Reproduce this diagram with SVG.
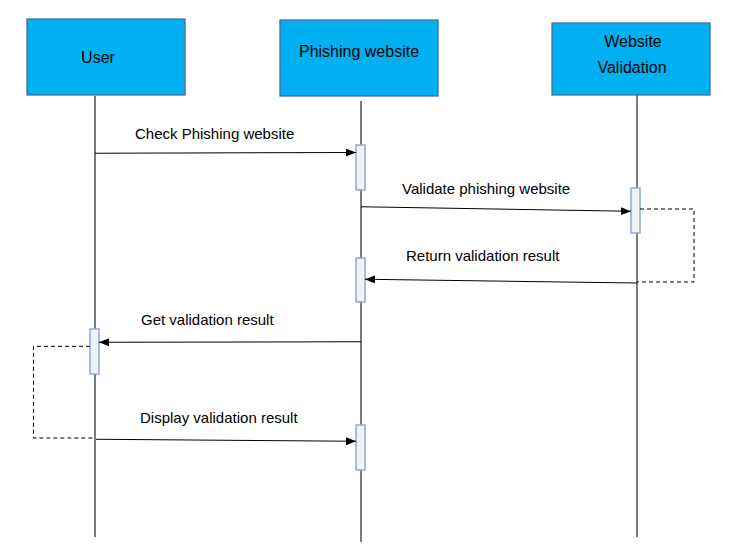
<svg xmlns="http://www.w3.org/2000/svg" width="736" height="556" viewBox="0 0 736 556">
<defs>
<style>
.box{fill:#00B0F0;stroke:#41719C;stroke-width:1.3}
.act{fill:#F2F2F2;stroke:#8FAADC;stroke-width:1.5}
.life{stroke:#222;stroke-width:1.2;fill:none}
.msg{stroke:#000;stroke-width:1.1;fill:none}
.dash{stroke:#000;stroke-width:1;fill:none;stroke-dasharray:4 3}
.t{font-family:"Liberation Sans",Arial,sans-serif;font-size:16px;fill:#000;text-anchor:middle}
.l{font-family:"Liberation Sans",Arial,sans-serif;font-size:15px;fill:#000}
</style>
<marker id="ah" markerWidth="10" markerHeight="8" refX="10" refY="4" orient="auto" markerUnits="userSpaceOnUse">
<path d="M0,0 L10,4 L0,8 Z" fill="#000"/>
</marker>
</defs>
<rect width="736" height="556" fill="#fff"/>
<g id="lifelines">
<line class="life" x1="95" y1="96" x2="95" y2="537"/>
<line class="life" x1="361" y1="101" x2="361" y2="542"/>
<line class="life" x1="637" y1="95" x2="637" y2="537"/>
</g>
<g id="user">
<rect class="box" x="27" y="19" width="158" height="76"/>
<text class="t" x="98" y="63">User</text>
</g>
<g id="phishing">
<rect class="box" x="280" y="20" width="158" height="76"/>
<text class="t" x="359" y="57">Phishing website</text>
</g>
<g id="validation">
<rect class="box" x="552" y="23" width="158" height="72"/>
<text class="t" x="633" y="47">Website</text>
<text class="t" x="632" y="73">Validation</text>
</g>
<g id="activations">
<rect class="act" x="356" y="145" width="9" height="45"/>
<rect class="act" x="631" y="188" width="9" height="45"/>
<rect class="act" x="356" y="258" width="9" height="44"/>
<rect class="act" x="90" y="329" width="9" height="45"/>
<rect class="act" x="356" y="425" width="9" height="45"/>
</g>
<g id="connectors">
<line class="msg" x1="95" y1="153.3" x2="356" y2="152.5" marker-end="url(#ah)"/>
<line class="msg" x1="361" y1="206.7" x2="631" y2="211.3" marker-end="url(#ah)"/>
<polyline class="dash" points="640,209 694,209 694,282 637,282"/>
<line class="msg" x1="637" y1="283" x2="365" y2="279.3" marker-end="url(#ah)"/>
<line class="msg" x1="361" y1="341.7" x2="99" y2="342.3" marker-end="url(#ah)"/>
<polyline class="dash" points="90,346.3 33.5,346.3 33.5,438 95,438"/>
<line class="msg" x1="96" y1="439.3" x2="356" y2="441.3" marker-end="url(#ah)"/>
</g>
<g id="labels">
<text class="l" x="135" y="139">Check Phishing website</text>
<text class="l" x="402" y="194">Validate phishing website</text>
<text class="l" x="406" y="261">Return validation result</text>
<text class="l" x="141" y="325">Get validation result</text>
<text class="l" x="140" y="423">Display validation result</text>
</g>
</svg>
